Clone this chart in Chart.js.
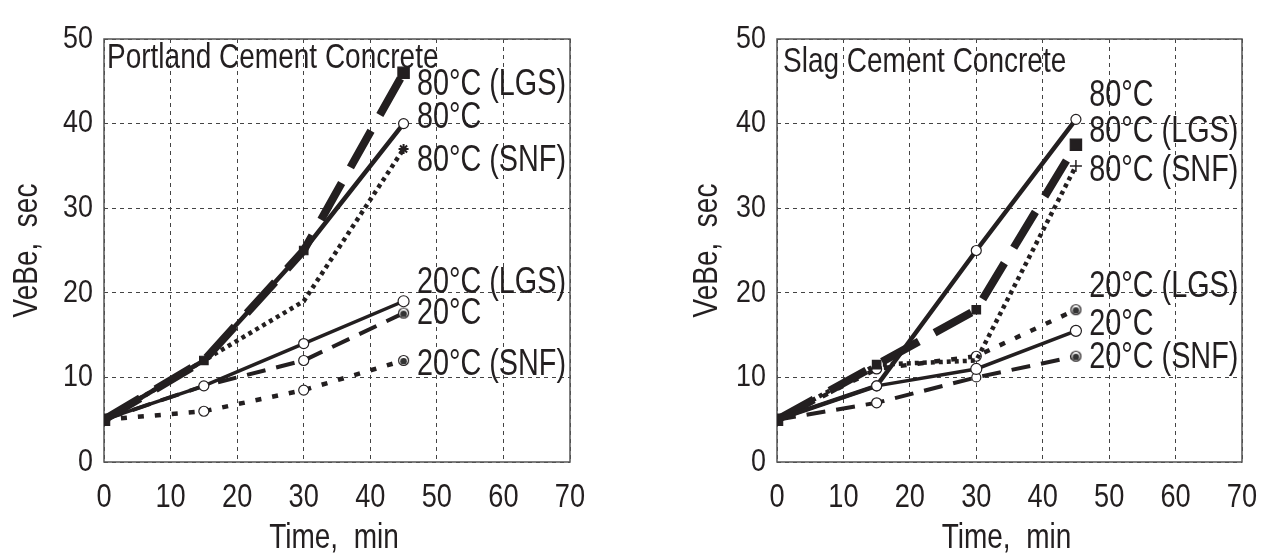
<!DOCTYPE html>
<html>
<head>
<meta charset="utf-8">
<script src="https://cdn.jsdelivr.net/npm/chart.js@4.4.1/dist/chart.umd.min.js"></script>
<style>
  html, body { margin: 0; padding: 0; background: #fff; }
  body { width: 1264px; height: 558px; position: relative; overflow: hidden; }
  .panel { position: absolute; top: 0; width: 632px; height: 558px; }
  #leftPanel { left: 0; }
  #rightPanel { left: 632px; }
</style>
</head>
<body>
<div class="panel" id="leftPanel"><canvas id="portlandChart"></canvas></div>
<div class="panel" id="rightPanel"><canvas id="slagChart"></canvas></div>
<script>
const FONT = "'Liberation Sans', Arial, sans-serif";
const INK = '#231f20';

const timeMin = [0, 15, 30, 45];

// Portland cement concrete, VeBe time in sec
const pc80LGS = [5, 12, 25, 46];
const pc80 = [5, 12, 25, 40];
const pc80SNF = [5, 12, 19, 37];
const pc20LGS = [5, 9, 14, 19];
const pc20 = [5, 9, 12, 17.6];
const pc20SNF = [5, 6, 8.5, 12];

// Slag cement concrete
const sc80 = [5, 9, 25, 40.5];
const sc80LGS = [5, 11.5, 18, 37.5];
const sc80SNF = [5, 11.5, 12, 35];
const sc20LGS = [5, 11, 12.5, 18];
const sc20 = [5, 9, 11, 15.5];
const sc20SNF = [5, 7, 10, 12.5];

// curve names printed beside the line ends, with the VeBe level each one sits at
const pcNames = ['80°C (LGS)', '80°C', '80°C (SNF)', '20°C (LGS)', '20°C', '20°C (SNF)'];
const pcNameLevels = [44.6, 40.7, 35.6, 21.2, 17.5, 11.4];
const scNames = ['80°C', '80°C (LGS)', '80°C (SNF)', '20°C (LGS)', '20°C', '20°C (SNF)'];
const scNameLevels = [43.2, 39.0, 34.4, 20.7, 16.2, 12.3];

// open circle with a dark centre, used on some curve ends
function dotMarker() {
  const c = document.createElement('canvas');
  c.width = 13; c.height = 13;
  const g = c.getContext('2d');
  g.fillStyle = '#fff'; g.strokeStyle = INK; g.lineWidth = 1.2;
  g.beginPath(); g.arc(6.5, 6.5, 5, 0, Math.PI * 2); g.fill(); g.stroke();
  g.fillStyle = '#333';
  g.beginPath(); g.arc(6.5, 7.2, 3.3, 0, Math.PI * 2); g.fill();
  return c;
}
const DOT = dotMarker();

function series(label, values, style) {
  return Object.assign({
    label,
    data: values.map((v, i) => ({ x: timeMin[i], y: v })),
    borderColor: INK,
    backgroundColor: '#fff',
    pointBorderColor: INK,
    pointBorderWidth: 1.2,
    borderCapStyle: 'butt',
    fill: false,
    tension: 0
  }, style);
}

const heavyDash = { borderWidth: 8, borderDash: [42, 18], pointStyle: 'rect', pointRadius: [8, 6, 6, 8], backgroundColor: INK, pointBackgroundColor: INK };
const thinDash = { borderWidth: 4, borderDash: [19, 11] };
const denseDot = { borderWidth: 4.5, borderDash: [4, 4] };
const sparseDot = { borderWidth: 4.5, borderDash: [6, 11] };

// narrow text: Liberation Sans squeezed horizontally
function narrowText(ctx, text, x, y, size, squeeze, align, baseline, angle) {
  ctx.save();
  ctx.translate(x, y);
  if (angle) ctx.rotate(angle);
  ctx.scale(squeeze, 1);
  ctx.font = size + 'px ' + FONT;
  ctx.textAlign = align;
  ctx.textBaseline = baseline;
  ctx.fillStyle = INK;
  ctx.fillText(text, 0, 0);
  ctx.restore();
}

const panelText = {
  id: 'panelText',
  beforeDatasetsDraw(chart) {
    const { ctx, chartArea: a } = chart;
    ctx.save();
    ctx.strokeStyle = '#555';
    ctx.lineWidth = 1.5;
    ctx.strokeRect(a.left, a.top, a.right - a.left, a.bottom - a.top);
    ctx.restore();
  },
  afterDraw(chart, args, opts) {
    const { ctx, chartArea: a, scales } = chart;

    // tick labels
    scales.x.ticks.forEach(t => {
      narrowText(ctx, String(t.value), scales.x.getPixelForValue(t.value), a.bottom + 36, 34, 0.8, 'center', 'middle');
    });
    scales.y.ticks.forEach(t => {
      narrowText(ctx, String(t.value), a.left - 11, scales.y.getPixelForValue(t.value), 32, 0.84, 'right', 'middle');
    });

    narrowText(ctx, opts.title, a.left + opts.titleDx, a.top + opts.titleDy, 35, 0.8, 'left', 'alphabetic');

    opts.names.forEach((name, i) => {
      narrowText(ctx, name, scales.x.getPixelForValue(opts.nameAt), scales.y.getPixelForValue(opts.levels[i]), 36, 0.8, 'left', 'middle');
    });

    narrowText(ctx, 'Time,  min', (a.left + a.right) / 2 - 3, opts.xTitleY, 35, 0.8, 'center', 'middle');
    narrowText(ctx, 'VeBe,  sec', opts.yTitleX, (a.top + a.bottom) / 2, 35, 0.8, 'center', 'middle', -Math.PI / 2);
  }
};

function buildChart(canvasId, datasets, axisWidth, padRight, text) {
  return new Chart(document.getElementById(canvasId), {
    type: 'line',
    data: { datasets },
    plugins: [panelText],
    options: {
      responsive: true,
      maintainAspectRatio: false,
      animation: false,
      layout: { padding: { top: 39, right: padRight, bottom: 0, left: 0 } },
      plugins: {
        legend: { display: false },
        tooltip: { enabled: false },
        panelText: text
      },
      scales: {
        x: {
          type: 'linear', min: 0, max: 70,
          afterFit: s => { s.height = 96; },
          ticks: { stepSize: 10, display: false },
          grid: { color: '#444', lineWidth: 1, drawTicks: false },
          border: { display: false, dash: [4, 4] }
        },
        y: {
          type: 'linear', min: 0, max: 50,
          afterFit: s => { s.width = axisWidth; },
          ticks: { stepSize: 10, display: false },
          grid: { color: '#444', lineWidth: 1, drawTicks: false },
          border: { display: false, dash: [4, 4] }
        }
      }
    }
  });
}

buildChart('portlandChart', [
  series('80°C (LGS)', pc80LGS, heavyDash),
  series('80°C', pc80, { borderWidth: 4.5, pointStyle: 'circle', pointRadius: [0, 0, 0, 5] }),
  series('80°C (SNF)', pc80SNF, Object.assign({ pointStyle: 'star', pointRadius: [0, 0, 0, 5], pointBorderWidth: 2 }, denseDot)),
  series('20°C (LGS)', pc20LGS, { borderWidth: 3.5, pointStyle: 'circle', pointRadius: [0, 5, 5, 5.5] }),
  series('20°C', pc20, Object.assign({ pointStyle: ['circle', 'circle', 'circle', DOT], pointRadius: [0, 0, 5, 6] }, thinDash)),
  series('20°C (SNF)', pc20SNF, Object.assign({ pointStyle: ['circle', 'circle', 'circle', DOT], pointRadius: [0, 5, 5, 6] }, sparseDot))
], 104, 62, {
  title: 'Portland Cement Concrete', titleDx: 3, titleDy: 29,
  names: pcNames, levels: pcNameLevels, nameAt: 47,
  xTitleY: 538, yTitleX: 27
});

buildChart('slagChart', [
  series('80°C', sc80, { borderWidth: 4.5, pointStyle: 'circle', pointRadius: [0, 5, 5, 5] }),
  series('80°C (LGS)', sc80LGS, heavyDash),
  series('80°C (SNF)', sc80SNF, Object.assign({ pointStyle: 'cross', pointRadius: [0, 0, 0, 6], pointBorderWidth: 1.5 }, denseDot)),
  series('20°C (LGS)', sc20LGS, Object.assign({ pointStyle: ['circle', 'circle', 'circle', DOT], pointRadius: [0, 5, 5, 6] }, sparseDot)),
  series('20°C', sc20, { borderWidth: 3.5, pointStyle: 'circle', pointRadius: [0, 5, 5.5, 5.5] }),
  series('20°C (SNF)', sc20SNF, Object.assign({ pointStyle: ['circle', 'circle', 'circle', DOT], pointRadius: [0, 5, 4.5, 6] }, thinDash))
], 145, 22, {
  title: 'Slag Cement Concrete', titleDx: 6, titleDy: 33,
  names: scNames, levels: scNameLevels, nameAt: 47,
  xTitleY: 538, yTitleX: 75
});
</script>
</body>
</html>
